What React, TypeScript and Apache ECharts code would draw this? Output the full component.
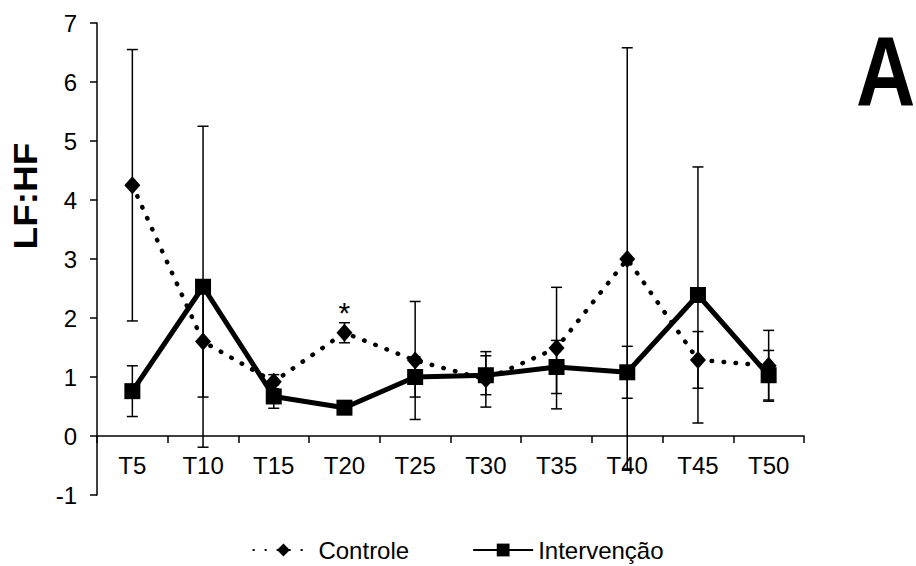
import React, { useEffect, useRef } from "react";
import * as echarts from "echarts";

const categories = ["T5", "T10", "T15", "T20", "T25", "T30", "T35", "T40", "T45", "T50"];
const controleMean = [4.25, 1.6, 0.92, 1.75, 1.28, 0.96, 1.49, 3.0, 1.29, 1.19];
const controleErr = [2.3, 0.94, 0.12, 0.17, 1.0, 0.47, 1.03, 3.58, 0.48, 0.6];
const intervencaoMean = [0.76, 2.53, 0.67, 0.48, 1.0, 1.03, 1.17, 1.08, 2.39, 1.03];
const intervencaoErr = [0.43, 2.72, 0.2, 0.08, 0.34, 0.33, 0.45, 0.44, 2.17, 0.42];
const yTicks = { min: -1, max: 7, interval: 1 };

const FONT = "'Liberation Sans', Arial, sans-serif";

function errData(mean: number[], err: number[]) {
  return mean.map((m, i) => [i, m - err[i], m + err[i]]);
}

function renderErr(params: any, api: any) {
  const x = api.value(0);
  const lo = api.coord([x, api.value(1)]);
  const hi = api.coord([x, api.value(2)]);
  const h = 5.5;
  const style = { stroke: "#000", lineWidth: 1.5 };
  return {
    type: "group",
    children: [
      { type: "line", shape: { x1: hi[0], y1: hi[1], x2: lo[0], y2: lo[1] }, style },
      { type: "line", shape: { x1: hi[0] - h, y1: hi[1], x2: hi[0] + h, y2: hi[1] }, style },
      { type: "line", shape: { x1: lo[0] - h, y1: lo[1], x2: lo[0] + h, y2: lo[1] }, style },
    ],
  };
}

export default function App() {
  const ref = useRef<HTMLDivElement>(null);
  useEffect(() => {
    document.body.style.margin = "0";
    const chart = echarts.init(ref.current!, null, { renderer: "svg" });
    const controleData = controleMean.map((v, i) =>
      i === 3
        ? {
            value: v,
            label: {
              show: true,
              formatter: "*",
              position: "top",
              distance: -4,
              fontSize: 30,
              fontFamily: FONT,
              color: "#000",
            },
          }
        : v
    );
    chart.setOption({
      animation: false,
      backgroundColor: "#fff",
      grid: { left: 97, right: 112, top: 23, bottom: 71, containLabel: false },
      xAxis: {
        type: "category",
        data: categories,
        boundaryGap: true,
        axisLine: { onZero: true, lineStyle: { color: "#000", width: 1.5 } },
        axisTick: { show: true, length: 7, lineStyle: { color: "#000", width: 1.5 } },
        axisLabel: { color: "#000", fontSize: 24, fontFamily: FONT, margin: -42 },
        splitLine: { show: false },
      },
      yAxis: {
        type: "value",
        min: yTicks.min,
        max: yTicks.max,
        interval: yTicks.interval,
        axisLine: { show: true, lineStyle: { color: "#000", width: 1.5 } },
        axisTick: { show: true, length: 7, lineStyle: { color: "#000", width: 1.5 } },
        axisLabel: { color: "#000", fontSize: 24, fontFamily: FONT, margin: 20 },
        splitLine: { show: false },
      },
      legend: {
        left: "center",
        top: 533,
        itemWidth: 60,
        itemHeight: 16,
        itemGap: 63,
        textStyle: { color: "#000", fontSize: 24, fontFamily: FONT },
        data: ["Controle", "Intervenção"],
      },
      series: [
        {
          name: "Controle",
          type: "line",
          data: controleData,
          symbol: "diamond",
          symbolSize: [16, 18],
          itemStyle: { color: "#000" },
          lineStyle: { color: "#000", width: 4.5, type: [0.5, 11.5], cap: "round" },
          z: 2,
        },
        {
          name: "Intervenção",
          type: "line",
          data: intervencaoMean,
          symbol: "rect",
          symbolSize: 16,
          itemStyle: { color: "#000" },
          lineStyle: { color: "#000", width: 5 },
          z: 3,
        },
        {
          name: "errC",
          type: "custom",
          data: errData(controleMean, controleErr),
          renderItem: renderErr,
          encode: { x: 0, y: [1, 2] },
          z: 4,
          silent: true,
        },
        {
          name: "errI",
          type: "custom",
          data: errData(intervencaoMean, intervencaoErr),
          renderItem: renderErr,
          encode: { x: 0, y: [1, 2] },
          z: 4,
          silent: true,
        },
      ],
      graphic: [
        {
          type: "text",
          x: 25,
          y: 196,
          rotation: Math.PI / 2,
          scaleY: 0.9,
          style: {
            text: "LF:HF",
            font: "bold 37px 'Liberation Sans', Arial, sans-serif",
            fill: "#000",
            textAlign: "center",
            textVerticalAlign: "middle",
          },
        },
        {
          type: "text",
          x: 856,
          y: 71,
          scaleX: 0.83,
          style: {
            text: "A",
            font: "bold 99px 'Liberation Sans', Arial, sans-serif",
            fill: "#000",
            textAlign: "left",
            textVerticalAlign: "middle",
          },
        },
      ],
    });
    return () => chart.dispose();
  }, []);
  return (
    <div
      ref={ref}
      style={{ position: "absolute", left: 0, top: 0, width: 916, height: 566 }}
    />
  );
}
